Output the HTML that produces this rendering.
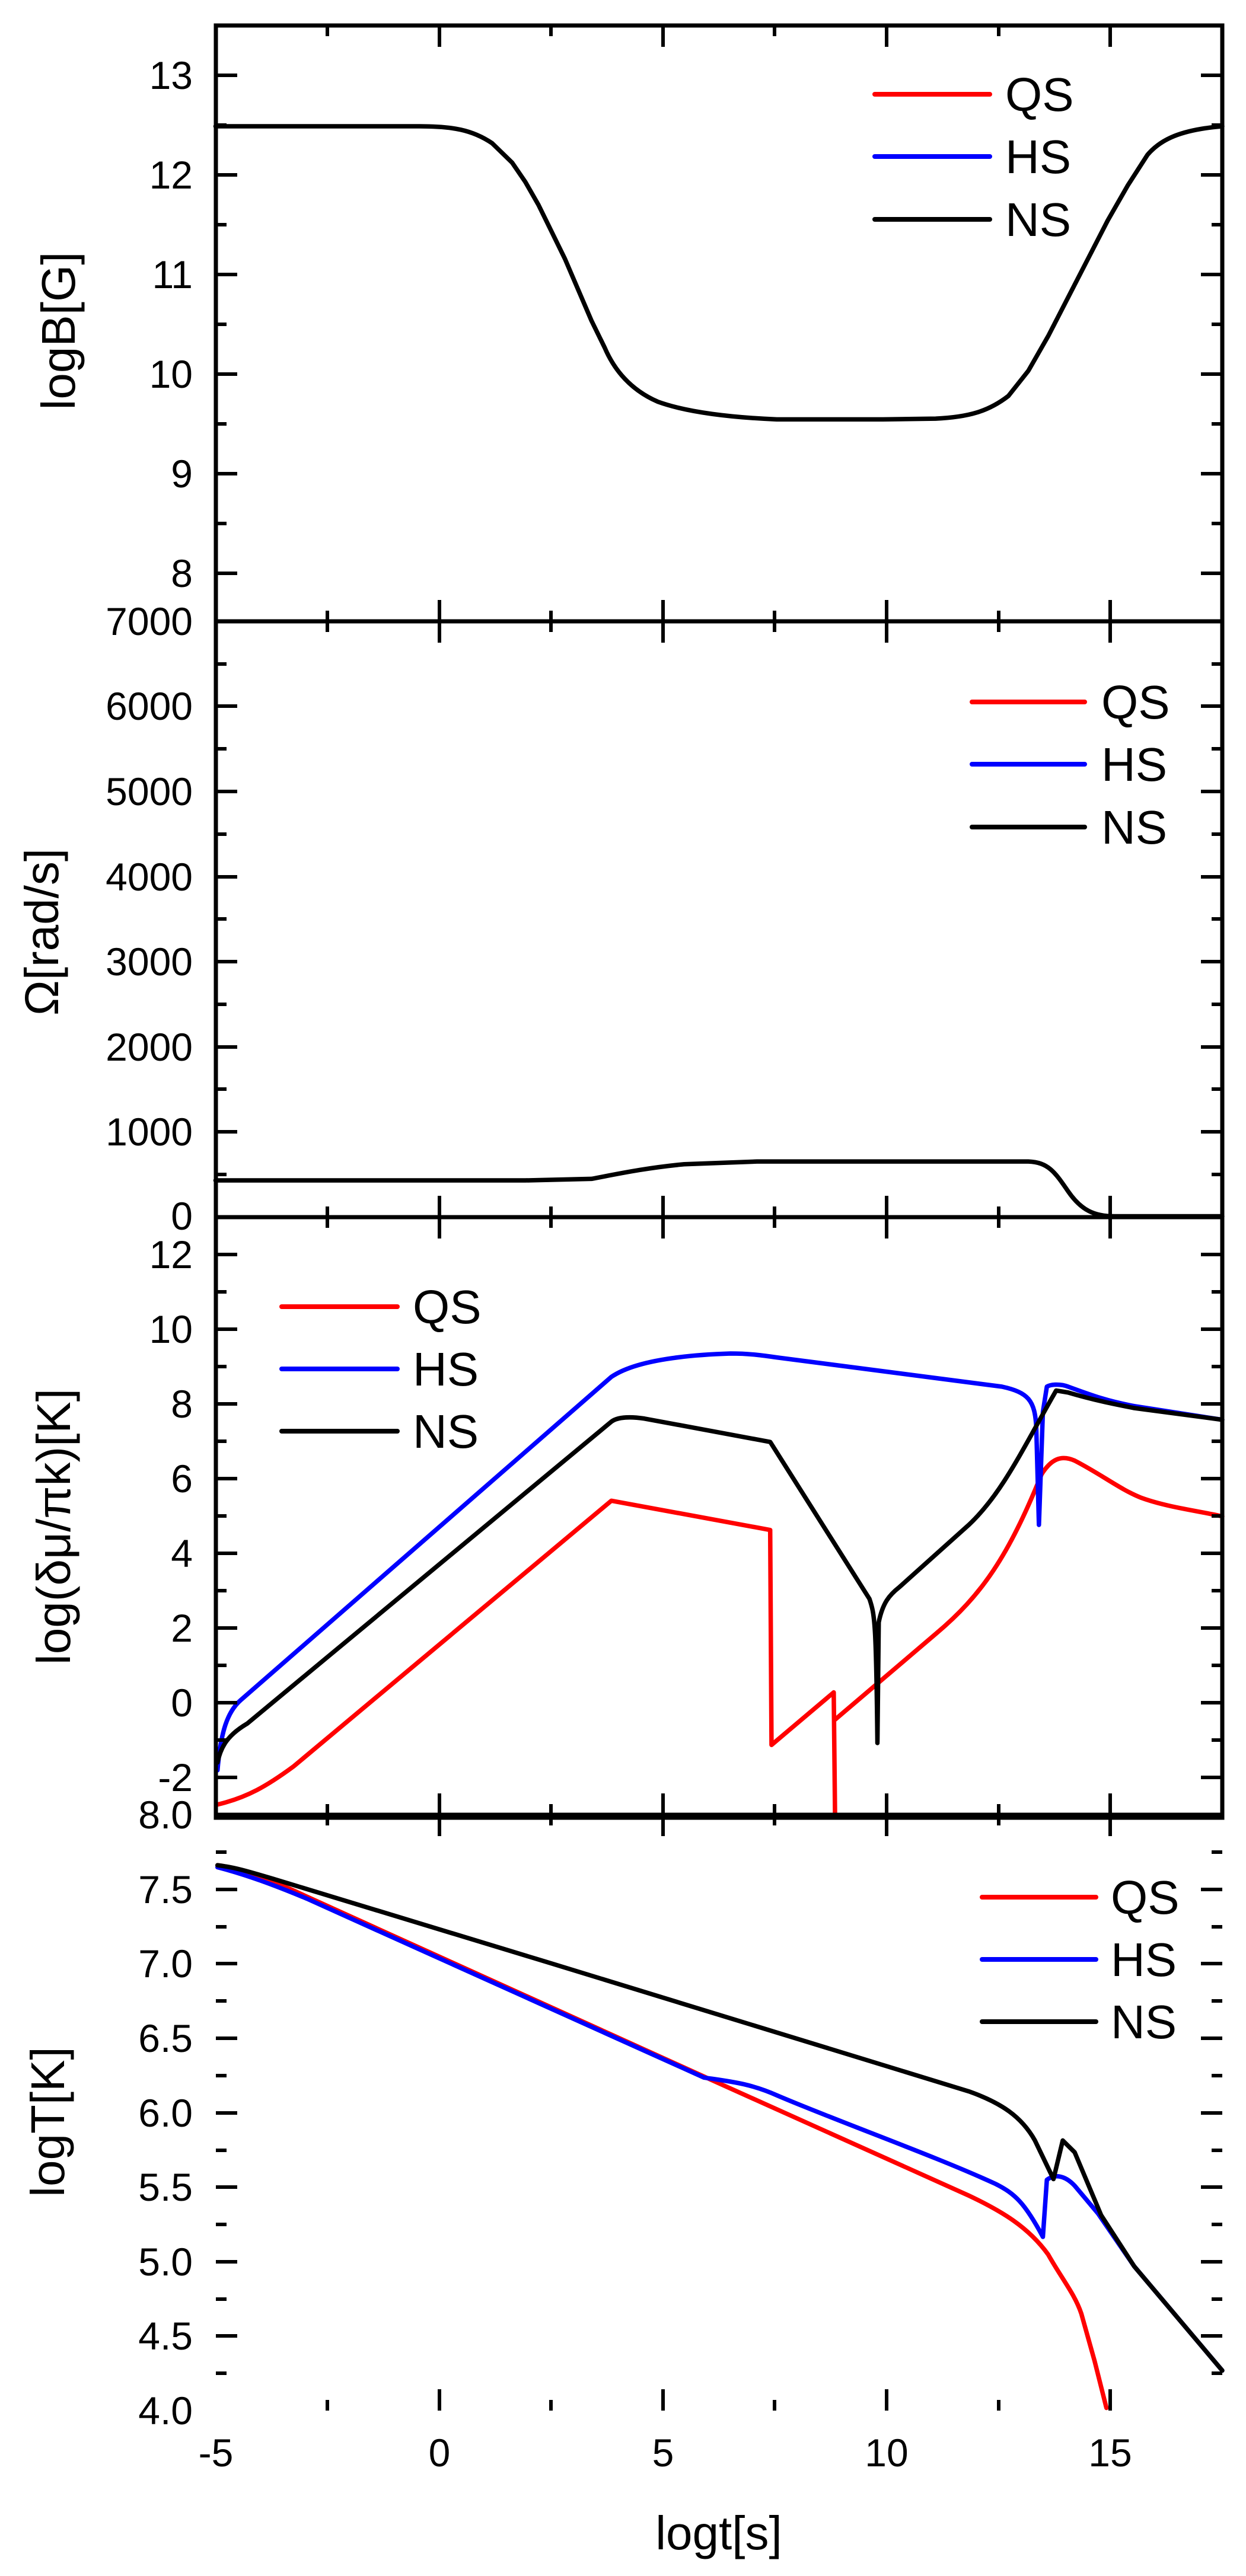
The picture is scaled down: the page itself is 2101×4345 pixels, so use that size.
<!DOCTYPE html>
<html><head><meta charset="utf-8"><style>html,body{margin:0;padding:0;background:#fff}svg{display:block}</style></head>
<body>
<svg width="2101" height="4345" viewBox="0 0 2101 4345" xmlns="http://www.w3.org/2000/svg" font-family="Liberation Sans, Arial, sans-serif">
<rect width="2101" height="4345" fill="#fff"/>
<g fill="none" stroke-linejoin="round" stroke-linecap="round">
<g transform="translate(350,40) scale(1.1161,0.6505)">
<path vector-effect="non-scaling-stroke" stroke="#000" stroke-width="7.5" d="M12,266 L320,266 C370,266 400,275 430,310 L460,360 480,410 500,470 520,540 540,610 560,690 580,770 600,840 C615,900 640,950 680,980 C720,1005 780,1020 860,1026 L1020,1026 L1100,1024 C1150,1020 1180,1005 1210,965 L1240,900 1270,810 1300,710 1330,610 1360,510 1390,420 1420,340 C1440,300 1470,275 1533,266"/>
</g>
<g transform="translate(350,1040) scale(1.1161,0.6505)">
<path vector-effect="non-scaling-stroke" stroke="#000" stroke-width="7.5" d="M12,1462 L480,1462 L580,1458 C620,1445 660,1430 720,1420 L830,1413 L1240,1413 C1270,1415 1280,1440 1300,1490 C1320,1540 1340,1555 1370,1555 L1533,1555"/>
</g>
<g transform="translate(350,2040) scale(1.1161,0.6569)">
<path vector-effect="non-scaling-stroke" stroke="#f00" stroke-width="7.5" d="M15,1528 C60,1510 90,1480 130,1430 L610,748 L850,823 L852,1375 L946,1240 L948,1560 M948,1310 L1100,1090 C1170,990 1210,890 1260,680 C1275,640 1290,630 1310,645 C1350,680 1380,720 1410,740 C1450,765 1500,775 1533,788"/>
<path vector-effect="non-scaling-stroke" stroke="#00f" stroke-width="7.5" d="M15,1440 C20,1340 30,1290 50,1260 L610,430 C640,395 700,375 790,370 C820,370 840,375 860,380 L1200,455 C1240,470 1250,490 1252,560 L1256,810 L1262,520 L1268,455 C1275,448 1290,448 1300,455 C1340,480 1360,492 1400,505 L1533,540"/>
<path vector-effect="non-scaling-stroke" stroke="#000" stroke-width="7.5" d="M15,1420 C20,1380 30,1350 60,1320 L610,545 C620,532 640,532 660,537 L850,597 L1000,1000 C1008,1040 1010,1060 1012,1370 L1014,1060 C1020,1010 1030,990 1045,970 L1150,810 C1200,730 1230,620 1282,465 L1300,470 C1340,490 1370,500 1400,510 L1533,540"/>
</g>
<g transform="translate(350,3040) scale(1.1161,0.6633)">
<path vector-effect="non-scaling-stroke" stroke="#f00" stroke-width="7.5" d="M15,160 C50,168 100,200 150,240 L760,705 L1150,1000 C1200,1040 1240,1080 1270,1150 C1290,1210 1310,1250 1320,1300 L1340,1420 L1358,1540"/>
<path vector-effect="non-scaling-stroke" stroke="#00f" stroke-width="7.5" d="M15,165 C60,185 100,210 150,245 L750,700 C790,710 820,715 860,745 C950,810 1100,900 1190,970 C1220,995 1235,1020 1262,1105 L1268,960 C1280,945 1295,948 1310,975 L1345,1045 L1400,1180 L1533,1445"/>
<path vector-effect="non-scaling-stroke" stroke="#000" stroke-width="7.5" d="M15,160 C40,165 60,175 100,195 L520,410 L1150,735 C1200,765 1230,800 1250,860 L1278,958 L1292,860 L1310,890 L1350,1050 L1400,1180 L1533,1445"/>
</g>
</g>

<g fill="none" stroke="#000" stroke-width="7">
<rect x="364" y="43" width="1697" height="3023"/>
<line x1="364" y1="1048" x2="2061" y2="1048"/>
<line x1="364" y1="2053" x2="2061" y2="2053"/>
<line x1="364" y1="3061" x2="2061" y2="3061"/>
</g>

<g stroke="#000" stroke-width="6">
<path d="
M741,43v36 M1118,43v36 M1495,43v36 M1872,43v36 M552,43v18 M929,43v18 M1306,43v18 M1684,43v18
M741,1048v-36 M1118,1048v-36 M1495,1048v-36 M1872,1048v-36 M552,1048v-18 M929,1048v-18 M1306,1048v-18 M1684,1048v-18
M741,1048v36 M1118,1048v36 M1495,1048v36 M1872,1048v36 M552,1048v18 M929,1048v18 M1306,1048v18 M1684,1048v18
M741,2053v-36 M1118,2053v-36 M1495,2053v-36 M1872,2053v-36 M552,2053v-18 M929,2053v-18 M1306,2053v-18 M1684,2053v-18
M741,2053v36 M1118,2053v36 M1495,2053v36 M1872,2053v36 M552,2053v18 M929,2053v18 M1306,2053v18 M1684,2053v18
M741,3061v-36 M1118,3061v-36 M1495,3061v-36 M1872,3061v-36 M552,3061v-18 M929,3061v-18 M1306,3061v-18 M1684,3061v-18
M741,3061v36 M1118,3061v36 M1495,3061v36 M1872,3061v36 M552,3061v18 M929,3061v18 M1306,3061v18 M1684,3061v18
M741,4066v-36 M1118,4066v-36 M1495,4066v-36 M1872,4066v-36 M552,4066v-18 M929,4066v-18 M1306,4066v-18 M1684,4066v-18
"/>
<path d="
M364,127h36 M364,295h36 M364,463h36 M364,631h36 M364,799h36 M364,967h36
M364,211h18 M364,379h18 M364,547h18 M364,715h18 M364,883h18
M2061,127h-36 M2061,295h-36 M2061,463h-36 M2061,631h-36 M2061,799h-36 M2061,967h-36
M2061,211h-18 M2061,379h-18 M2061,547h-18 M2061,715h-18 M2061,883h-18
"/>
<path d="
M364,1191h36 M364,1335h36 M364,1479h36 M364,1622h36 M364,1766h36 M364,1909h36
M364,1120h18 M364,1263h18 M364,1407h18 M364,1550h18 M364,1694h18 M364,1837h18 M364,1981h18
M2061,1191h-36 M2061,1335h-36 M2061,1479h-36 M2061,1622h-36 M2061,1766h-36 M2061,1909h-36
M2061,1120h-18 M2061,1263h-18 M2061,1407h-18 M2061,1550h-18 M2061,1694h-18 M2061,1837h-18 M2061,1981h-18
"/>
<path d="
M364,2116h36 M364,2242h36 M364,2368h36 M364,2494h36 M364,2620h36 M364,2746h36 M364,2872h36 M364,2998h36
M364,2179h18 M364,2305h18 M364,2431h18 M364,2557h18 M364,2683h18 M364,2809h18 M364,2935h18
M2061,2116h-36 M2061,2242h-36 M2061,2368h-36 M2061,2494h-36 M2061,2620h-36 M2061,2746h-36 M2061,2872h-36 M2061,2998h-36
M2061,2179h-18 M2061,2305h-18 M2061,2431h-18 M2061,2557h-18 M2061,2683h-18 M2061,2809h-18 M2061,2935h-18
"/>
<path d="
M364,3187h36 M364,3312h36 M364,3438h36 M364,3564h36 M364,3689h36 M364,3815h36 M364,3940h36
M364,3124h18 M364,3250h18 M364,3375h18 M364,3501h18 M364,3627h18 M364,3752h18 M364,3878h18 M364,4003h18
M2061,3187h-36 M2061,3312h-36 M2061,3438h-36 M2061,3564h-36 M2061,3689h-36 M2061,3815h-36 M2061,3940h-36
M2061,3124h-18 M2061,3250h-18 M2061,3375h-18 M2061,3501h-18 M2061,3627h-18 M2061,3752h-18 M2061,3878h-18 M2061,4003h-18
"/>
</g>

<g font-size="66" text-anchor="end" fill="#000">
<text x="325" y="150">13</text><text x="325" y="318">12</text><text x="325" y="486">11</text><text x="325" y="654">10</text><text x="325" y="822">9</text><text x="325" y="990">8</text>
<text x="325" y="1071">7000</text><text x="325" y="1214">6000</text><text x="325" y="1358">5000</text><text x="325" y="1502">4000</text><text x="325" y="1645">3000</text><text x="325" y="1789">2000</text><text x="325" y="1932">1000</text><text x="325" y="2074">0</text>
<text x="325" y="2139">12</text><text x="325" y="2265">10</text><text x="325" y="2391">8</text><text x="325" y="2517">6</text><text x="325" y="2643">4</text><text x="325" y="2769">2</text><text x="325" y="2895">0</text><text x="325" y="3021">-2</text>
<text x="325" y="3084">8.0</text><text x="325" y="3210">7.5</text><text x="325" y="3335">7.0</text><text x="325" y="3461">6.5</text><text x="325" y="3587">6.0</text><text x="325" y="3712">5.5</text><text x="325" y="3838">5.0</text><text x="325" y="3963">4.5</text><text x="325" y="4089">4.0</text>
</g>
<g font-size="66" text-anchor="middle" fill="#000">
<text x="364" y="4160">-5</text><text x="741" y="4160">0</text><text x="1118" y="4160">5</text><text x="1495" y="4160">10</text><text x="1872" y="4160">15</text>
</g>

<g font-size="80" text-anchor="middle" fill="#000">
<text transform="translate(126,558) rotate(-90)">logB[G]</text>
<text transform="translate(98,1572) rotate(-90)">Ω[rad/s]</text>
<text transform="translate(118,2575) rotate(-90)">log(δμ/πk)[K]</text>
<text transform="translate(108,3579) rotate(-90)">logT[K]</text>
<text x="1212" y="4300">logt[s]</text>
</g>

<g stroke-width="8" stroke-linecap="round">
<line x1="1475" y1="159" x2="1669" y2="159" stroke="#f00"/>
<line x1="1475" y1="264" x2="1669" y2="264" stroke="#00f"/>
<line x1="1475" y1="370" x2="1669" y2="370" stroke="#000"/>
<line x1="1639" y1="1184" x2="1829" y2="1184" stroke="#f00"/>
<line x1="1639" y1="1289" x2="1829" y2="1289" stroke="#00f"/>
<line x1="1639" y1="1395" x2="1829" y2="1395" stroke="#000"/>
<line x1="475" y1="2204" x2="670" y2="2204" stroke="#f00"/>
<line x1="475" y1="2309" x2="670" y2="2309" stroke="#00f"/>
<line x1="475" y1="2414" x2="670" y2="2414" stroke="#000"/>
<line x1="1656" y1="3200" x2="1848" y2="3200" stroke="#f00"/>
<line x1="1656" y1="3305" x2="1848" y2="3305" stroke="#00f"/>
<line x1="1656" y1="3410" x2="1848" y2="3410" stroke="#000"/>
</g>
<g font-size="80" fill="#000">
<text x="1695" y="187">QS</text><text x="1695" y="292">HS</text><text x="1695" y="398">NS</text>
<text x="1857" y="1212">QS</text><text x="1857" y="1317">HS</text><text x="1857" y="1423">NS</text>
<text x="696" y="2232">QS</text><text x="696" y="2337">HS</text><text x="696" y="2442">NS</text>
<text x="1873" y="3228">QS</text><text x="1873" y="3333">HS</text><text x="1873" y="3438">NS</text>
</g>
</svg>
</body></html>
